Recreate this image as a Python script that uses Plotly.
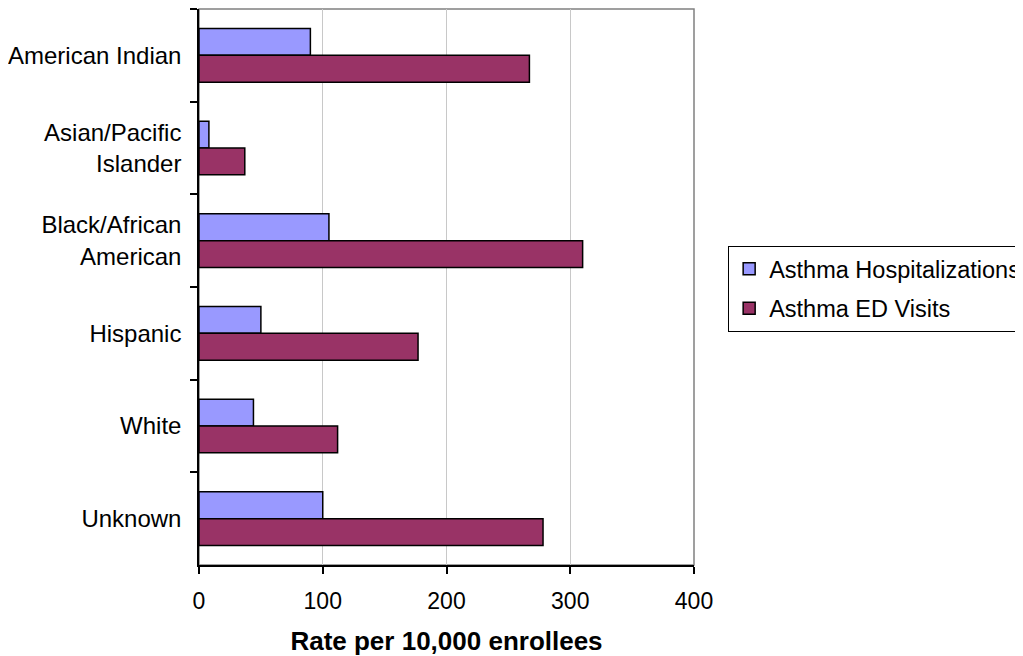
import plotly.graph_objects as go

categories = ["American Indian", "Asian/Pacific<br>Islander", "Black/African<br>American",
              "Hispanic", "White", "Unknown"]
hospitalizations = [90, 8, 105, 50, 44, 100]
ed_visits = [267, 37, 310, 177, 112, 278]
x_ticks = [0, 100, 200, 300, 400]

FONT = "Liberation Sans, Arial, sans-serif"

fig = go.Figure()
fig.add_trace(go.Bar(
    y=categories, x=hospitalizations, orientation="h", name="Asthma Hospitalizations",
    legendgroup="h",
    marker=dict(color="#9999FF", line=dict(color="#000000", width=1.5)),
))
fig.add_trace(go.Bar(
    y=categories, x=ed_visits, orientation="h", name="Asthma ED Visits",
    legendgroup="e",
    marker=dict(color="#993366", line=dict(color="#000000", width=1.5)),
))

# page body has an 8px default margin, compensate in the plot margins
fig.update_layout(
    width=1023, height=656,
    margin=dict(l=191, r=337, t=1, b=99, autoexpand=False),
    paper_bgcolor="white", plot_bgcolor="white",
    barmode="group", bargap=0.42, bargroupgap=0,
    font=dict(family=FONT, size=24, color="#000000"),
    showlegend=True,
    legend=dict(
        x=1.069, y=0.574, xanchor="left", yanchor="top",
        bordercolor="#000000", borderwidth=1, bgcolor="white",
        font=dict(family=FONT, size=23.5), traceorder="grouped", tracegroupgap=6,
        itemwidth=30,
    ),
    shapes=[dict(type="rect", xref="paper", yref="paper", x0=0, y0=0, x1=1, y1=1,
                 line=dict(color="#808080", width=1.5), layer="below")],
)
fig.update_xaxes(
    range=[0, 400], tickvals=x_ticks, ticktext=[str(v) for v in x_ticks],
    tickfont=dict(size=23),
    showgrid=True, gridcolor="#c8c8c8", gridwidth=1,
    showline=True, linecolor="#000000", linewidth=1.5,
    ticks="outside", ticklen=7, tickcolor="#000000", tickwidth=1.5,
    zeroline=False, ticklabelstandoff=8,
    title=dict(text="<b>Rate per 10,000 enrollees</b>", font=dict(family=FONT, size=26), standoff=18),
)
fig.update_yaxes(
    autorange="reversed", showgrid=False,
    showline=True, linecolor="#000000", linewidth=1.5,
    ticks="outside", ticklen=7, tickcolor="#000000", tickwidth=1.5,
    tickson="boundaries", ticklabelstandoff=11,
)

fig.write_html("out.html")
